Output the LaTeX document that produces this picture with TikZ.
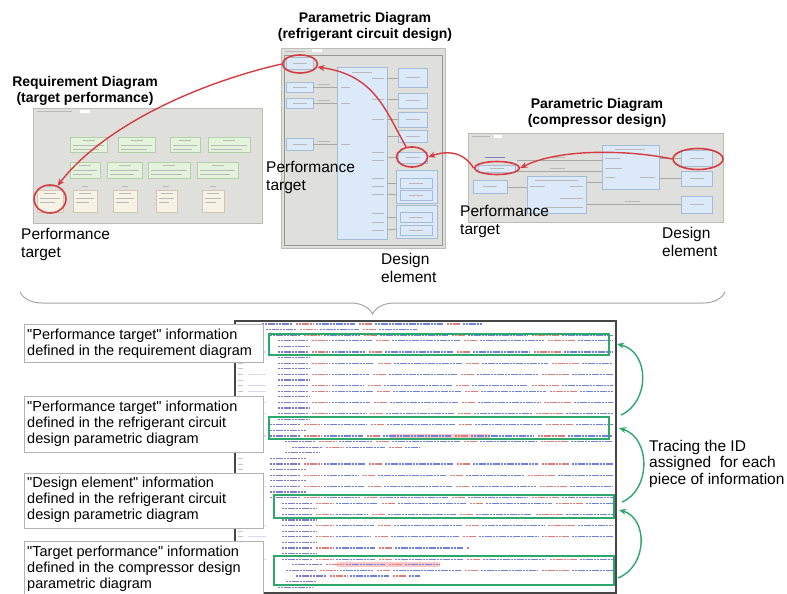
\documentclass[tikz,border=0pt]{standalone}
\usepackage{fontspec}
\setmainfont{Liberation Sans}[Ligatures=TeXOff]
\usetikzlibrary{shapes.geometric,arrows.meta,decorations.pathreplacing}

\definecolor{panelgray}{RGB}{223,223,219}
\definecolor{panelline}{RGB}{188,188,184}
\definecolor{blueFill}{RGB}{219,233,248}
\definecolor{blueLine}{RGB}{165,188,215}
\definecolor{greenFill}{RGB}{228,243,220}
\definecolor{greenLine}{RGB}{180,208,170}
\definecolor{creamFill}{RGB}{247,242,230}
\definecolor{creamLine}{RGB}{208,198,178}
\definecolor{markRed}{RGB}{214,60,66}
\definecolor{markGreen}{RGB}{44,168,108}
\definecolor{cTag}{RGB}{125,125,195}
\definecolor{cAttr}{RGB}{218,125,125}
\definecolor{cVal}{RGB}{110,130,218}
\definecolor{wireGray}{RGB}{168,168,162}
\definecolor{frameDark}{RGB}{70,70,70}

% one XML source line drawn as coloured text runs: y, start x, shift of later runs
\newcommand\xmlrow[3]{%
  \draw[xtag]  (#2,#1) -- (#2+30,#1);
  \draw[xattr] (#2+34,#1) -- (#2+52,#1);
  \draw[xval]  (#2+54,#1) -- (#2+90+#3,#1);
  \draw[xattr] (#2+94+#3,#1) -- (#2+108+#3,#1);
  \draw[xval]  (#2+110+#3,#1) -- (#2+178+#3,#1);
  \draw[xattr] (#2+182+#3,#1) -- (#2+196+#3,#1);
  \draw[xval]  (#2+198+#3,#1) -- (#2+258+2*#3,#1);
  \draw[xattr] (#2+262+2*#3,#1) -- (#2+290+2*#3,#1);
  \draw[xval]  (#2+292+2*#3,#1) -- (#2+400,#1);}
% shorter XML line ending at a given x: y, start x, end x
\newcommand\xmlpart[3]{%
  \begin{scope}\clip (#2-1,#1-3) rectangle (#3,#1+3);\xmlrow{#1}{#2}{3}\end{scope}}
% closing tag: y, start x, length
\newcommand\xmlclose[3]{\draw[xtag] (#2,#1) -- (#2+#3,#1);}
% diagram box with a few lines of small print: style, x1, y1, x2, y2
\newcommand\diagbox[5]{%
  \draw[#1] (#2,#3) rectangle (#4,#5);
  \draw[tinyline] ({(#2+#4)/2-6},#3+3) -- ({(#2+#4)/2+6},#3+3);
  \draw[tinyline] (#2+3,#3+8) -- (#4-3,#3+8);
  \draw[tinyline] (#2+3,#3+12) -- (#4-8,#3+12);}
% small blue part box with one line of print
\newcommand\partbox[4]{%
  \draw[bbox] (#1,#2) rectangle (#3,#4);
  \draw[tinyline] ({(#1+#3)/2-7},{(#2+#4)/2}) -- ({(#1+#3)/2+7},{(#2+#4)/2});}

\begin{document}
\begin{tikzpicture}[x=1pt,y=-1pt,
  panel/.style={fill=panelgray,draw=panelline,line width=0.8},
  bbox/.style={fill=blueFill,draw=blueLine,line width=0.5},
  gbox/.style={fill=greenFill,draw=greenLine,line width=0.5},
  cbox/.style={fill=creamFill,draw=creamLine,line width=0.5},
  tinyline/.style={draw=gray!55,line width=0.6},
  wire/.style={draw=wireGray,line width=0.5},
  ring/.style={ellipse,draw=markRed,line width=1.6,inner sep=0},
  redarrow/.style={draw=markRed,line width=1.4,-{Stealth[length=7pt,width=6pt]}},
  greenarrow/.style={draw=markGreen,line width=1.4,-{Stealth[length=7pt,width=6pt]}},
  greenframe/.style={draw=markGreen,line width=1.5,inner sep=0,anchor=north west},
  label/.style={font=\fontsize{15.5}{18}\selectfont,align=left,inner sep=0,anchor=north west},
  title/.style={font=\bfseries\fontsize{14}{16}\selectfont,align=center,inner sep=0,anchor=north},
  infobox/.style={draw=gray!60,fill=white,line width=0.7,inner sep=0,anchor=north west},
  infotext/.style={font=\fontsize{14.5}{16}\selectfont,align=left,inner sep=0,anchor=north west},
  xrun/.style={line width=1.3,dash pattern=on 2.1pt off 0.7pt},
  xtag/.style={xrun,draw=cTag},
  xattr/.style={xrun,draw=cAttr},
  xval/.style={xrun,draw=cVal},
  gutter/.style={draw=gray!45,line width=1}]

\useasboundingbox (0,0) rectangle (787,594);
\fill[white] (0,0) rectangle (787,594);

%% ---------- requirement diagram ----------
\draw[panel] (33,108) rectangle (262,223);
\draw[tinyline] (37,111) -- (72,111);
\fill[white] (80,109.5) rectangle (90,112.5);
\diagbox{gbox}{70}{137}{107}{152}
\diagbox{gbox}{118}{137}{155}{152}
\diagbox{gbox}{170}{137}{200}{152}
\diagbox{gbox}{208}{137}{250}{152}
\diagbox{gbox}{70}{162}{100}{178}
\diagbox{gbox}{107}{162}{142}{178}
\diagbox{gbox}{148}{162}{190}{178}
\diagbox{gbox}{197}{162}{238}{178}
\diagbox{cbox}{37}{190}{63}{212}
\diagbox{cbox}{73}{190}{97}{212}
\diagbox{cbox}{113}{190}{137}{212}
\diagbox{cbox}{156}{190}{177}{212}
\diagbox{cbox}{202}{190}{224}{212}
\foreach \xx in {50,85,125,166,213} \draw[tinyline] (\xx-3,186) -- (\xx+3,186);

%% ---------- parametric diagram: refrigerant circuit ----------
\draw[panel] (281,48) rectangle (445,248);
\draw[tinyline] (285,51) -- (305,51);
\fill[white] (312,49.5) rectangle (322,52.5);
\draw[draw=panelline!80!black,line width=0.5] (284,55) rectangle (442,245);
\partbox{286}{57}{313}{69}
\partbox{286}{82}{313}{92}
\partbox{286}{98}{313}{108}
\partbox{286}{138}{313}{150}
\draw[bbox] (337,67) rectangle (387,239);
\draw[tinyline] (352,72) -- (372,72);
\foreach \yy in {87,103,144} {
  \draw[wire] (313,\yy) -- (337,\yy);
  \draw[tinyline] (318,\yy-3) -- (330,\yy-3);
  \draw[tinyline] (341,\yy) -- (350,\yy);}
\foreach \yy in {78,99,119,152,160,178,186,194,213,222,230}
  \draw[tinyline] (372,\yy) -- (384,\yy);
\foreach \yy in {78,99,119,136,157,183,194,217,229}
  \draw[wire] (387,\yy) -- (398,\yy);
\partbox{398}{68}{427}{87}
\partbox{398}{93}{427}{108}
\partbox{398}{112}{427}{127}
\partbox{398}{130}{427}{142}
\partbox{398}{152}{427}{163}
\draw[bbox] (396,170) rectangle (437,203);
\partbox{400}{178}{432}{188}
\partbox{400}{190}{432}{200}
\draw[bbox] (396,205) rectangle (437,238);
\partbox{400}{212}{432}{222}
\partbox{400}{225}{432}{235}

%% ---------- parametric diagram: compressor ----------
\draw[panel] (468,133) rectangle (723,222);
\draw[tinyline] (472,136) -- (490,136);
\fill[white] (494,134.5) rectangle (502,137.5);
\draw[wire] (517,160) -- (602,160);
\draw[wire] (517,171) -- (602,171);
\draw[wire] (586,182) -- (602,182);
\draw[wire] (507,187) -- (527,187);
\draw[wire] (586,204) -- (681,204);
\draw[wire] (659,158) -- (681,158);
\draw[wire] (659,178) -- (681,178);
\draw[tinyline] (550,157) -- (565,157);
\draw[tinyline] (550,168) -- (565,168);
\draw[tinyline] (625,201) -- (640,201);
\draw[draw=cTag,line width=0.8] (485,157) -- (505,157);
\partbox{478}{165}{515}{172}
\partbox{473}{180}{507}{193}
\draw[bbox] (527,176) rectangle (586,213);
\draw[tinyline] (535,180) -- (578,180);
\draw[tinyline] (530,186) -- (545,186);
\draw[tinyline] (570,186) -- (583,186);
\draw[tinyline] (560,198) -- (583,198);
\draw[tinyline] (545,207) -- (583,207);
\draw[bbox] (602,145) rectangle (659,189);
\draw[tinyline] (615,149) -- (645,149);
\draw[tinyline] (605,158) -- (620,158);
\draw[tinyline] (605,168) -- (622,168);
\draw[tinyline] (605,177) -- (615,177);
\draw[tinyline] (640,177) -- (655,177);
\partbox{681}{150}{712}{166}
\partbox{681}{171}{712}{186}
\partbox{681}{196}{712}{213}

%% ---------- titles ----------
\node[title] (treq) at (85,76) {Requirement Diagram\\(target performance)};
\node[title] (tref) at (365,12) {Parametric Diagram\\(refrigerant circuit design)};
\node[title] (tcomp) at (597,98) {Parametric Diagram\\(compressor design)};

%% ---------- highlighted elements and tracing arrows ----------
\node[ring,minimum width=32,minimum height=28] (rreq) at (50,199) {};
\node[ring,minimum width=35,minimum height=18] (rtop) at (300,64) {};
\node[ring,minimum width=31,minimum height=20] (rbot) at (412,157) {};
\node[ring,minimum width=45,minimum height=13] (cleft) at (497,168) {};
\node[ring,minimum width=50,minimum height=21] (cright) at (698,159) {};

\draw[redarrow] (cright.west) .. controls (630,150) and (560,148) .. (cleft.east);
\draw[redarrow] (cleft.west) .. controls (462,150) and (445,151) .. (rbot.east);
\draw[redarrow] (rbot.120) .. controls (385,110) and (375,75) .. (rtop.-10);
\draw[redarrow] (rtop.west) .. controls (190,85) and (100,130) .. (rreq.60);

%% ---------- element labels ----------
\node[label] (lreq) at (21,228) {Performance\\target};
\node[label] (lrefp) at (266,161) {Performance\\target};
\node[label] (lrefd) at (381,253) {Design\\element};
\node[label] (lcompp) at (460,205) {Performance\\target};
\node[label] (lcompd) at (662,227) {Design\\element};

%% ---------- brace ----------
\draw[draw=gray!70,line width=1,decorate,decoration={brace,mirror,amplitude=22pt}]
  (20,292) -- (725,292);

%% ---------- XML listing ----------
\node[draw=frameDark,line width=1.6,fill=white,inner sep=0,anchor=north west,
  minimum width=381,minimum height=272] (xml) at (234,320) {};
\fill[red!22] (390,433.5) rectangle (490,438.5);
\fill[red!22] (337,562.3) rectangle (440,567.3);
\begin{scope}
\clip (236,322) rectangle (613,591);
\foreach \i in {2,...,47} \draw[gutter] (238,324+5.6*\i) -- (243,324+5.6*\i);
\foreach \i in {5,9,11,12,14,16,20,29,36,38,42}
  \draw[draw=blueFill!70!blue!40,line width=1.2] (248,324+5.6*\i) -- (266,324+5.6*\i);
\xmlpart{324.0}{262}{483}
\xmlpart{329.6}{266}{417}
\xmlrow{335.2}{270}{0}
\xmlrow{340.8}{278}{4}
\xmlclose{346.4}{278}{32}
\xmlrow{352.0}{278}{-3}
\xmlclose{357.6}{278}{32}
\xmlrow{363.2}{278}{6}
\xmlclose{368.8}{278}{32}
\xmlrow{374.4}{278}{1}
\xmlclose{380.0}{278}{32}
\xmlrow{385.6}{278}{-4}
\xmlrow{391.2}{278}{5}
\xmlclose{396.8}{278}{32}
\xmlrow{402.4}{278}{2}
\xmlclose{408.0}{278}{32}
\xmlrow{413.6}{278}{-2}
\xmlclose{419.2}{278}{32}
\xmlrow{424.8}{270}{7}
\xmlclose{430.4}{270}{36}
\xmlrow{436.0}{270}{3}
\xmlrow{441.6}{285}{-3}
\xmlpart{447.2}{292}{420}
\xmlclose{452.8}{285}{34}
\xmlclose{458.4}{270}{36}
\xmlrow{464.0}{270}{5}
\xmlclose{469.6}{270}{36}
\xmlrow{475.2}{270}{-2}
\xmlclose{480.8}{270}{36}
\xmlrow{486.4}{270}{4}
\xmlclose{492.0}{270}{36}
\xmlrow{497.6}{270}{0}
\xmlrow{503.2}{282}{6}
\xmlclose{508.8}{282}{34}
\xmlrow{514.4}{282}{-4}
\xmlclose{520.0}{282}{34}
\xmlrow{525.6}{282}{2}
\xmlclose{531.2}{282}{34}
\xmlrow{536.8}{282}{-1}
\xmlclose{542.4}{282}{34}
\xmlpart{548.0}{282}{470}
\xmlclose{553.6}{282}{34}
\xmlrow{559.2}{282}{3}
\xmlpart{564.8}{292}{440}
\xmlrow{570.4}{286}{-3}
\xmlpart{576.0}{296}{420}
\xmlclose{581.6}{286}{30}
\xmlclose{587.2}{278}{34}
\end{scope}

\node[greenframe,minimum width=340,minimum height=21] (g1) at (268,333) {};
\node[greenframe,minimum width=340,minimum height=22] (g2) at (268,416) {};
\node[greenframe,minimum width=340,minimum height=23] (g3) at (273,494) {};
\node[greenframe,minimum width=340,minimum height=29] (g4) at (273,555) {};

\coordinate (a1s) at (621,415);
\coordinate (a1e) at (617,344);
\coordinate (a2s) at (622,502);
\coordinate (a2e) at (619,428);
\coordinate (a3s) at (618,578);
\coordinate (a3e) at (619,510);
\draw[greenarrow] (a1s) .. controls (650,402) and (650,352) .. (a1e);
\draw[greenarrow] (a2s) .. controls (651,490) and (651,438) .. (a2e);
\draw[greenarrow] (a3s) .. controls (648,566) and (648,518) .. (a3e);

\node[font=\fontsize{15.5}{16.5}\selectfont,align=left,inner sep=0,anchor=north west]
  (trace) at (649,440) {Tracing the ID\\assigned~ for each\\piece of information};

%% ---------- explanation boxes ----------
\node[infobox,minimum width=239,minimum height=38] (b1) at (24,324) {};
\node[infotext] (t1) at (27,329) {"Performance target" information\\defined in the requirement diagram};
\node[infobox,minimum width=239,minimum height=56] (b2) at (24,396) {};
\node[infotext] (t2) at (27,401) {"Performance target" information\\defined in the refrigerant circuit\\design parametric diagram};
\node[infobox,minimum width=239,minimum height=55] (b3) at (24,473) {};
\node[infotext] (t3) at (27,477) {"Design element" information\\defined in the refrigerant circuit\\design parametric diagram};
\node[infobox,minimum width=239,minimum height=60] (b4) at (24,541) {};
\node[infotext] (t4) at (27,546) {"Target performance" information\\defined in the compressor design\\parametric diagram};
\end{tikzpicture}
\end{document}
